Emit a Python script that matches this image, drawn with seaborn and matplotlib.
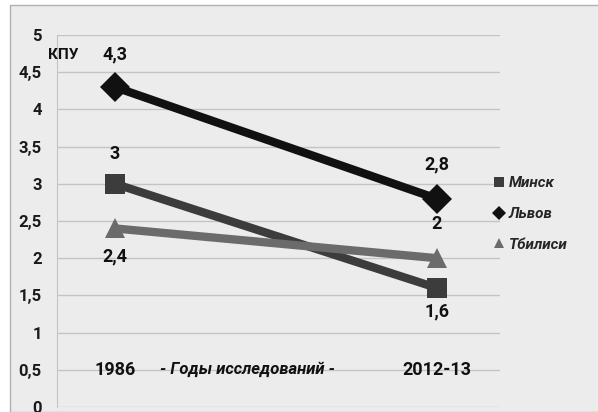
import pandas as pd
import seaborn as sns
import matplotlib.pyplot as plt
from matplotlib.patches import Rectangle
from matplotlib.lines import Line2D

# данные
years = ['1986', '2012-13']
cities = ['Минск', 'Львов', 'Тбилиси']
minsk = [3.0, 1.6]
lvov = [4.3, 2.8]
tbilisi = [2.4, 2.0]
y_ticks = [0, 0.5, 1, 1.5, 2, 2.5, 3, 3.5, 4, 4.5, 5]

colors = {'Минск': '#3c3c3c', 'Львов': '#111111', 'Тбилиси': '#6b6b6b'}
markers = {'Минск': 's', 'Львов': 'D', 'Тбилиси': '^'}

df = pd.DataFrame({
    'pos': [0, 1] * 3,
    'val': minsk + lvov + tbilisi,
    'city': [c for c in cities for _ in years],
})

sns.set_style('white')
plt.rcParams['font.family'] = ['Roboto', 'DejaVu Sans']

fig = plt.figure(figsize=(5.98, 4.12), dpi=100)
fig.patch.set_facecolor('white')
fig.patches.append(Rectangle((10 / 598, 0), 1, 1 - 5 / 412, transform=fig.transFigure,
                             facecolor='#ececec', edgecolor='#b0b0b0', lw=1, zorder=-5))

ax = fig.add_axes([57 / 598, 5 / 412, 443 / 598, 372 / 412])
ax.set_facecolor('none')

sns.lineplot(data=df, x='pos', y='val', hue='city', style='city', palette=colors,
             markers=markers, dashes=False, lw=6, markersize=15, legend=False, ax=ax,
             markeredgewidth=0, zorder=3)

ax.set_xlim(-0.18, 1.196)
ax.set_ylim(0, 5)
ax.set_yticks(y_ticks)
ax.set_yticklabels([('%g' % t).replace('.', ',') for t in y_ticks], fontsize=12, weight='bold')
ax.set_xticks([])
ax.yaxis.grid(True, color='#c4c4c4', lw=1)
ax.tick_params(axis='y', length=8, color='#c4c4c4', pad=3, labelcolor='#1a1a1a')
for s in ['top', 'right', 'bottom']:
    ax.spines[s].set_visible(False)
ax.spines['left'].set_color('#c4c4c4')
ax.set_xlabel('')
ax.set_ylabel('')

# подписи значений (смещение в пикселях, вниз — положительное)
fmt = lambda v: ('%g' % v).replace('.', ',')
offsets = {'Минск': (-30, 23), 'Львов': (-33, -34), 'Тбилиси': (28, -34)}
for c, vals in zip(cities, [minsk, lvov, tbilisi]):
    for i, v in enumerate(vals):
        dy = offsets[c][i]
        ax.annotate(fmt(v), (i, v), xytext=(0, -dy), textcoords='offset pixels',
                    ha='center', va='center', fontsize=13, weight='bold', color='#111111')

ax.text(0, 0.5, years[0], ha='center', va='center', fontsize=13, weight='bold', color='#111111')
ax.text(1, 0.5, years[1], ha='center', va='center', fontsize=13, weight='bold', color='#111111')
ax.text(0.41, 0.5, '- Годы исследований -', ha='center', va='center', fontsize=12,
        style='italic', weight='bold', color='#111111')
ax.text(-0.16, 4.73, 'КПУ', ha='center', va='center', fontsize=11, weight='bold', color='#111111')

handles = [Line2D([], [], ls='none', marker=markers[c], color=colors[c], markersize=7,
                  markeredgewidth=0) for c in cities]
leg = fig.legend(handles, cities, loc='center left', bbox_to_anchor=(478 / 598, 1 - 214 / 412),
                 frameon=False, handletextpad=0.1, labelspacing=1.1, handlelength=1.0,
                 prop={'style': 'italic', 'size': 11, 'weight': 'bold'})

fig.savefig('out.png', dpi=100)
